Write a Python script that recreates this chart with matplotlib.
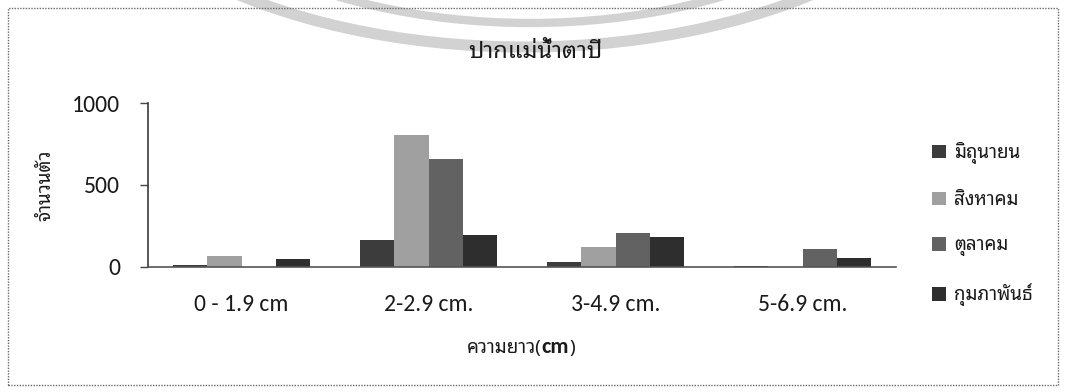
import matplotlib
matplotlib.use("Agg")
import matplotlib.pyplot as plt
from matplotlib import font_manager
from matplotlib.ft2font import FT2Font
from matplotlib.patches import Rectangle, Arc
from matplotlib.offsetbox import TextArea, HPacker, AnchoredOffsetbox
import numpy as np

# ---------------- data ----------------
categories = ["0 - 1.9 cm", "2-2.9 cm.", "3-4.9 cm.", "5-6.9 cm."]
series_names = ["มิถุนายน", "สิงหาคม", "ตุลาคม", "กุมภาพันธ์"]
jun = [8, 160, 25, 5]
aug = [65, 805, 120, 0]
octo = [0, 660, 205, 110]
feb = [45, 195, 180, 50]
yticks = [0, 500, 1000]
title_text = "ปากแม่น้ำตาปี"
ylabel_text = "จำนวนตัว"
xlabel_thai = "ความยาว("
xlabel_unit = "cm"

colors = ["#3c3c3c", "#a0a0a0", "#626262", "#2e2e2e"]


# ---------------- fonts ----------------
def fonts_with(ch):
    found = {}
    for f in font_manager.fontManager.ttflist:
        try:
            cm = FT2Font(f.fname).get_charmap()
        except Exception:
            continue
        if ord(ch) in cm:
            found.setdefault(f.name, f.fname)
    return found


thai_found = fonts_with("ก")
thai_prefs = ["Tahoma", "Noto Sans Thai Looped", "Loma", "Garuda", "Tlwg Typo",
              "Noto Sans Thai", "Noto Sans Thai UI", "Sarabun", "Norasi", "Kinnari"]
thai_font = None
for p in thai_prefs:
    if p in thai_found:
        thai_font = p
        break
if thai_font is None and thai_found:
    thai_font = sorted(thai_found)[0]

latin_names = {f.name for f in font_manager.fontManager.ttflist}
latin_font = "DejaVu Sans"
for p in ["Carlito", "Calibri", "Lato", "Open Sans"]:
    if p in latin_names:
        latin_font = p
        break

thai_family = ([thai_font] if thai_font else []) + [latin_font, "DejaVu Sans"]
latin_family = [latin_font, "DejaVu Sans"]

plt.rcParams["font.family"] = latin_family

# ---------------- figure ----------------
W, H = 1066, 392
fig = plt.figure(figsize=(W / 100, H / 100), dpi=100)
fig.patch.set_facecolor("white")


def fx(px):
    return px / W


def fy(py):
    return 1 - py / H


# watermark arcs (decorative background)
fig.patches.append(Arc((fx(525), fy(-205)), fx(2 * 470), 2 * 252 / H, theta1=180, theta2=360,
                       transform=fig.transFigure, color="#d2d2d2", lw=8, zorder=0))
fig.patches.append(Arc((fx(530), fy(-205)), fx(2 * 410), 2 * 228 / H, theta1=180, theta2=360,
                       transform=fig.transFigure, color="#d2d2d2", lw=6, zorder=0))

# dotted outer frame
fig.patches.append(Rectangle((fx(8), fy(385)), fx(1050), (385 - 8) / H,
                             transform=fig.transFigure, fill=False,
                             ls=(0, (1, 1)), lw=1.0, ec="#6a6a6a", zorder=1))

ax_left, ax_right, ax_top, ax_bot = 148, 896, 103.3, 266.5
ax = fig.add_axes([fx(ax_left), fy(ax_bot), fx(ax_right - ax_left), (ax_bot - ax_top) / H])
ax.set_facecolor("none")

x = np.arange(len(categories))
bw = 0.182
all_series = [jun, aug, octo, feb]
for i, (vals, name, c) in enumerate(zip(all_series, series_names, colors)):
    ax.bar(x + (i - 1.5) * bw, vals, width=bw, color=c, label=name, zorder=2,
           edgecolor="none")

ax.set_xlim(-0.5, len(categories) - 0.5)
ax.set_ylim(0, 1000)
ax.set_yticks(yticks)
ax.set_yticklabels([str(v) for v in yticks], fontsize=17, family=latin_family, color="#1a1a1a")
ax.set_xticks(x)
ax.set_xticklabels(categories, fontsize=17, family=latin_family, color="#1a1a1a")
ax.tick_params(axis="x", length=0, pad=20)
ax.tick_params(axis="y", length=6, width=1, color="#444444", pad=14, direction="out")

for s in ["top", "right"]:
    ax.spines[s].set_visible(False)
ax.spines["left"].set_color("#3a3a3a")
ax.spines["left"].set_linewidth(1.2)
ax.spines["bottom"].set_color("#555555")
ax.spines["bottom"].set_linewidth(1.2)

# y label
ax.set_ylabel(ylabel_text, family=thai_family, fontsize=13.5, fontweight="bold", color="#1a1a1a")
ax.yaxis.set_label_coords((54 - ax_left) / (ax_right - ax_left), 0.5)

# title
fig.text(fx(535), fy(52), title_text, family=thai_family, fontsize=17, fontweight="bold",
         ha="center", va="center", color="#1a1a1a")

# x label with bold "cm"
ta1 = TextArea(xlabel_thai, textprops=dict(family=thai_family, fontsize=13.5, color="#1a1a1a"))
ta2 = TextArea(xlabel_unit, textprops=dict(family=latin_family, fontsize=16, fontweight="bold",
                                          color="#1a1a1a"))
ta3 = TextArea(")", textprops=dict(family=thai_family, fontsize=13.5, color="#1a1a1a"))
pack = HPacker(children=[ta1, ta2, ta3], align="baseline", pad=0, sep=0)
ab = AnchoredOffsetbox(loc="center", child=pack, frameon=False,
                       bbox_to_anchor=(fx(521), fy(347)), bbox_transform=fig.transFigure,
                       borderpad=0, pad=0)
fig.add_artist(ab)

# legend
leg = fig.legend(loc="upper left", bbox_to_anchor=(fx(932), fy(142)),
                 frameon=False, prop=dict(family=thai_family, size=13.5),
                 handlelength=0.72, handleheight=0.72, handletextpad=0.45,
                 labelspacing=1.45, borderaxespad=0, borderpad=0)
for t in leg.get_texts():
    t.set_color("#1a1a1a")

fig.savefig("out.png", dpi=100)
